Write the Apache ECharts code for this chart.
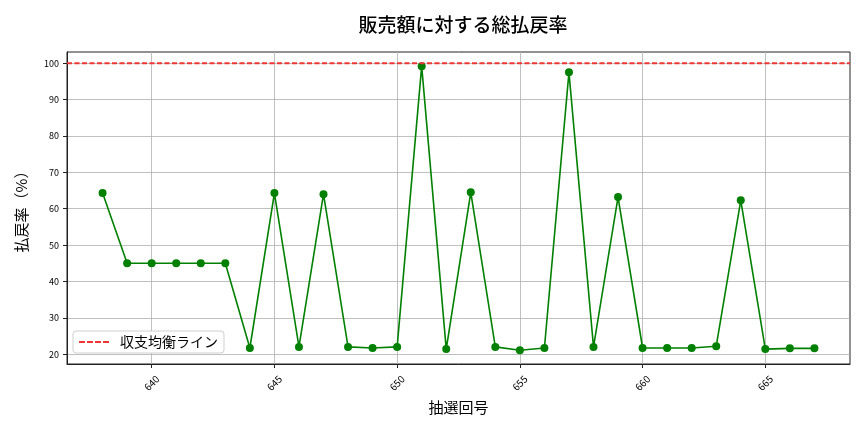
<!DOCTYPE html>
<html>
<head>
<meta charset="utf-8">
<script src="https://cdn.jsdelivr.net/npm/echarts@6/dist/echarts.min.js"></script>
<style>
  html, body { margin: 0; padding: 0; background: #fff; }
  #chart { width: 864px; height: 432px; }
</style>
</head>
<body>
<div id="chart"></div>
<script>
// 抽選回号と払戻率（%）
var draws = [638, 639, 640, 641, 642, 643, 644, 645, 646, 647,
             648, 649, 650, 651, 652, 653, 654, 655, 656, 657,
             658, 659, 660, 661, 662, 663, 664, 665, 666, 667];
var payoutRate = [64.3, 45.0, 45.0, 45.0, 45.0, 45.0, 21.7, 64.3, 22.0, 64.0,
                  22.0, 21.7, 22.0, 99.2, 21.4, 64.5, 22.0, 21.1, 21.7, 97.5,
                  22.0, 63.2, 21.7, 21.7, 21.7, 22.2, 62.3, 21.4, 21.6, 21.6];
var breakEven = 100;
var xTicks = [640, 645, 650, 655, 660, 665];
var yTicks = [20, 30, 40, 50, 60, 70, 80, 90, 100];

var xMin = 636.55, xMax = 668.45;
var yMin = 17.3, yMax = 103.1;

var font = '"Noto Sans CJK JP", "Noto Sans", sans-serif';
var red = '#f03535';

var chart = echarts.init(document.getElementById('chart'));

var option = {
    animation: false,
    backgroundColor: '#fff',
    title: {
        text: '販売額に対する総払戻率',
        left: 458,
        top: 10,
        textAlign: 'center',
        textStyle: { fontFamily: font, fontSize: 19, fontWeight: 500, color: '#000' }
    },
    legend: {
        left: 73,
        top: 331,
        orient: 'vertical',
        data: [{
            name: '収支均衡ライン',
            icon: 'path://M0,0h6v2h-6z M8,0h6v2h-6z M16,0h6v2h-6z M24,0h6v2h-6z'
        }],
        itemWidth: 30,
        itemHeight: 2,
        itemGap: 0,
        padding: [4, 6, 4, 6],
        backgroundColor: '#fff',
        borderColor: '#d0d0d0',
        borderWidth: 1,
        borderRadius: 3,
        textStyle: { fontFamily: font, fontSize: 14, color: '#000', padding: [0, 0, 0, 6] }
    },
    grid: {
        left: 67, right: 14, top: 52, bottom: 68,
        show: true,
        borderColor: '#222',
        borderWidth: 1
    },
    xAxis: {
        type: 'value',
        min: xMin,
        max: xMax,
        name: '抽選回号',
        nameLocation: 'middle',
        nameGap: 35,
        nameTextStyle: { fontFamily: font, fontSize: 15, color: '#000' },
        axisLine: { show: true, lineStyle: { color: '#222' } },
        axisTick: { show: true, length: 4, lineStyle: { color: '#222' }, customValues: xTicks },
        axisLabel: {
            customValues: xTicks,
            rotate: 45,
            align: 'center',
            verticalAlign: 'middle',
            margin: 19,
            fontFamily: font,
            fontSize: 10,
            color: '#000'
        },
        splitLine: { show: true, lineStyle: { color: '#b0b0b0', width: 0.8 } }
    },
    yAxis: {
        type: 'value',
        min: yMin,
        max: yMax,
        name: '払戻率（%）',
        nameLocation: 'middle',
        nameGap: 38,
        nameTextStyle: { fontFamily: font, fontSize: 15, color: '#000' },
        axisLine: { show: true, lineStyle: { color: '#222' } },
        axisTick: { show: true, length: 4, lineStyle: { color: '#222' }, customValues: yTicks },
        axisLabel: {
            customValues: yTicks,
            margin: 8,
            fontFamily: font,
            fontSize: 9,
            color: '#000'
        },
        splitLine: { show: true, lineStyle: { color: '#b0b0b0', width: 0.8 } }
    },
    series: [
        {
            name: '払戻率',
            type: 'line',
            data: draws.map(function (d, i) { return [d, payoutRate[i]]; }),
            symbol: 'circle',
            symbolSize: 8,
            lineStyle: { color: '#008000', width: 1.6 },
            itemStyle: { color: '#008000' },
            z: 3
        },
        {
            name: '収支均衡ライン',
            type: 'line',
            data: [[xMin, breakEven], [xMax, breakEven]],
            symbol: 'none',
            lineStyle: { color: red, width: 2, type: [5, 2.5] },
            itemStyle: { color: red },
            z: 4
        }
    ]
};

chart.setOption(option);
</script>
</body>
</html>
